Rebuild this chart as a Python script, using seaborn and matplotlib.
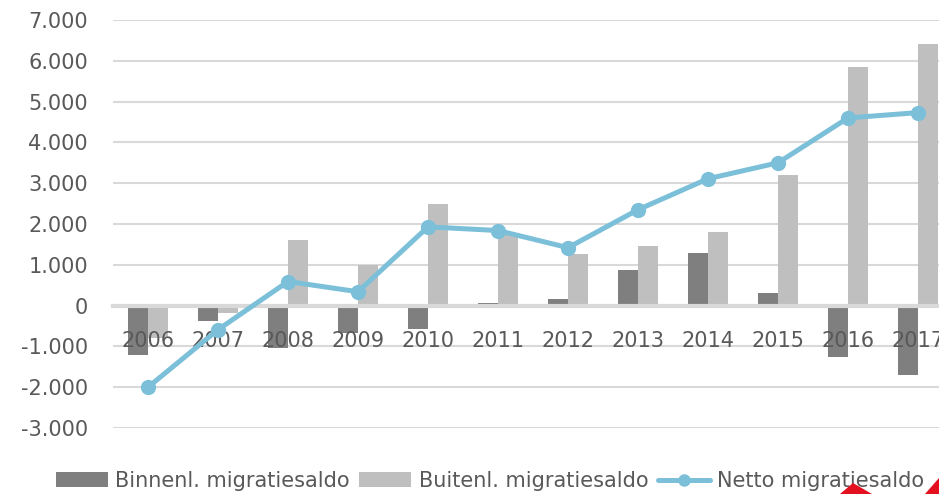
import numpy as np
import pandas as pd
import matplotlib
matplotlib.use('Agg')
import matplotlib.pyplot as plt
import seaborn as sns
from matplotlib.patches import Polygon
from matplotlib.lines import Line2D
from matplotlib.patches import Patch

years = ['2006', '2007', '2008', '2009', '2010', '2011',
         '2012', '2013', '2014', '2015', '2016', '2017']
binnenl = [-1220, -380, -1030, -670, -570, 60, 150, 880, 1300, 310, -1260, -1690]
buitenl = [-790, -170, 1620, 1000, 2500, 1760, 1270, 1470, 1810, 3200, 5860, 6410]
netto = [-2000, -590, 590, 340, 1930, 1840, 1420, 2350, 3110, 3500, 4600, 4730]
series_names = ['Binnenl. migratiesaldo', 'Buitenl. migratiesaldo', 'Netto migratiesaldo']
yticks = [-3000, -2000, -1000, 0, 1000, 2000, 3000, 4000, 5000, 6000, 7000]
ytick_labels = ['-3.000', '-2.000', '-1.000', '0', '1.000', '2.000', '3.000',
                '4.000', '5.000', '6.000', '7.000']

df = pd.DataFrame({
    'jaar': years * 2,
    'waarde': binnenl + buitenl,
    'reeks': [series_names[0]] * len(years) + [series_names[1]] * len(years),
})

sns.set_theme(style='white')
plt.rcParams['font.family'] = ['DejaVu Sans']

W, H = 939, 494
fig = plt.figure(figsize=(W / 100, H / 100), dpi=100)
ax = fig.add_axes([113 / W, 1 - 428 / H, 840 / W, 408 / H])

dark, light, blue = '#7f7f7f', '#bfbfbf', '#7bbfd9'
grid_col = '#d9d9d9'

for t in yticks:
    if t != 0:
        ax.axhline(t, color=grid_col, lw=1.5, zorder=0.3)

sns.barplot(data=df, x='jaar', y='waarde', hue='reeks', order=years,
            hue_order=series_names[:2], palette=[dark, light], width=0.56,
            linewidth=0, saturation=1, ax=ax, legend=False, zorder=1)

xpos = np.arange(len(years))
sns.lineplot(x=xpos, y=netto, color=blue, lw=3.6, marker='o', markersize=11,
             markeredgewidth=0, ax=ax, zorder=5, sort=False)

ax.set_ylim(-3000, 7000)
ax.set_xlim(-0.5, len(years) - 0.5)
ax.set_yticks(yticks)
ax.set_yticklabels(ytick_labels)
ax.set_xlabel('')
ax.set_ylabel('')
ax.set_axisbelow(False)

for s in ['top', 'right', 'left']:
    ax.spines[s].set_visible(False)
ax.spines['bottom'].set_position(('data', 0))
ax.spines['bottom'].set_color(grid_col)
ax.spines['bottom'].set_linewidth(3)
ax.spines['bottom'].set_zorder(2)

ax.tick_params(axis='y', length=0, pad=18, labelsize=15, labelcolor='#595959')
ax.tick_params(axis='x', length=0, pad=18, labelsize=15, labelcolor='#595959')

handles = [Patch(facecolor=dark, edgecolor='none'),
           Patch(facecolor=light, edgecolor='none'),
           Line2D([0], [0], color=blue, lw=3.6, marker='o', markersize=9, markeredgewidth=0)]
fig.legend(handles, series_names, loc='center left',
           bbox_to_anchor=(56 / W, 1 - 481 / H), ncol=3, frameon=False,
           handlelength=2.5, handleheight=0.7, handletextpad=0.35,
           columnspacing=0.45, borderaxespad=0, borderpad=0,
           prop={'family': ['DejaVu Sans'], 'size': 15},
           labelcolor='#595959')

red = '#e3101f'
for pts in ([(840, 494), (853, 483), (872, 494)], [(925, 494), (939, 478), (939, 494)]):
    fig.patches.append(Polygon([(x / W, 1 - y / H) for x, y in pts], closed=True,
                               facecolor=red, edgecolor='none',
                               transform=fig.transFigure, figure=fig, zorder=10))

fig.savefig('out.png', dpi=100)
